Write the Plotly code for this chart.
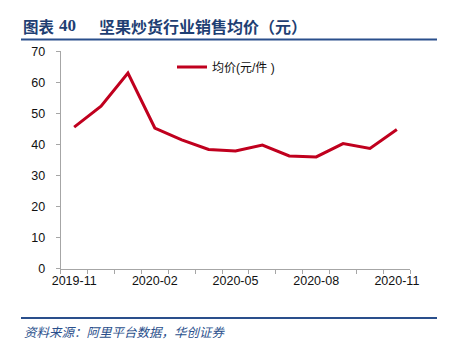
import plotly.graph_objects as go

months = ["2019-11", "2019-12", "2020-01", "2020-02", "2020-03", "2020-04", "2020-05",
          "2020-06", "2020-07", "2020-08", "2020-09", "2020-10", "2020-11"]
avg_price = [45.6, 52.3, 63.0, 45.3, 41.5, 38.4, 37.9, 39.8, 36.3, 36.0, 40.3, 38.7, 44.8]
tick_labels = ["2019-11", "2020-02", "2020-05", "2020-08", "2020-11"]
series_name = "均价(元/件 )"

W, H = 449, 354
x_idx = list(range(len(months)))
tick_pos = [months.index(t) for t in tick_labels]

fig = go.Figure()
fig.add_trace(go.Scatter(x=x_idx, y=avg_price, mode="lines", name=series_name,
                         line=dict(color="#C0001E", width=3)))

x0, x1 = 60.7 / W, 410.3 / W
y0, y1 = 1 - 268.7 / H, 1 - 51.3 / H

fig.update_layout(
    width=W, height=H,
    margin=dict(l=0, r=0, t=0, b=0, autoexpand=False),
    paper_bgcolor="white", plot_bgcolor="white",
    font=dict(family="Liberation Sans, Arial, Noto Sans CJK SC", size=12, color="#111111"),
    showlegend=True,
    legend=dict(x=172 / W, y=1 - 67 / H, xanchor="left", yanchor="middle",
                bgcolor="rgba(0,0,0,0)", font=dict(size=12, family="Liberation Sans, Noto Sans CJK SC"),
                itemwidth=30),
    xaxis=dict(domain=[x0, x1], range=[-0.5, len(months) - 0.5],
               tickmode="array", tickvals=tick_pos, ticktext=tick_labels,
               ticks="", showgrid=False, zeroline=False, automargin=False,
               showline=True, linecolor="#A6A6A6", linewidth=1,
               minor=dict(tickmode="linear", tick0=-0.5, dtick=1, ticks="outside",
                          ticklen=4, tickcolor="#A6A6A6", showgrid=False),
               tickfont=dict(size=12.5), fixedrange=True),
    yaxis=dict(domain=[y0, y1], range=[0, 70], dtick=10, tick0=0,
               ticks="outside", ticklen=4, tickcolor="#A6A6A6",
               showgrid=False, zeroline=False, automargin=False,
               showline=True, linecolor="#A6A6A6", linewidth=1,
               tickfont=dict(size=12.5), ticklabelstandoff=8, fixedrange=True),
)

title_color = "#1F3F73"
# title pieces
fig.add_annotation(xref="paper", yref="paper", x=21 / W, y=1 - 26 / H,
                   xanchor="left", yanchor="middle", showarrow=False,
                   text="<b>图表</b>",
                   font=dict(family="Noto Sans CJK SC", size=15.5, color=title_color))
fig.add_annotation(xref="paper", yref="paper", x=57 / W, y=1 - 26 / H,
                   xanchor="left", yanchor="middle", showarrow=False,
                   text="<b>40</b>",
                   font=dict(family="Liberation Serif", size=17, color=title_color))
fig.add_annotation(xref="paper", yref="paper", x=97 / W, y=1 - 26 / H,
                   xanchor="left", yanchor="middle", showarrow=False,
                   text="<b>坚果炒货行业销售均价（元）</b>",
                   font=dict(family="Noto Sans CJK SC", size=16, color=title_color))
fig.add_shape(type="line", xref="paper", yref="paper", x0=21 / W, x1=437 / W,
              y0=1 - 39.5 / H, y1=1 - 39.5 / H, line=dict(color="#2A4F8C", width=2))
# source
fig.add_shape(type="line", xref="paper", yref="paper", x0=21 / W, x1=437 / W,
              y0=1 - 318 / H, y1=1 - 318 / H, line=dict(color="#2A4F8C", width=2))
fig.add_annotation(xref="paper", yref="paper", x=22 / W, y=1 - 331 / H,
                   xanchor="left", yanchor="middle", showarrow=False,
                   text="<i>资料来源：阿里平台数据，华创证券</i>",
                   font=dict(family="Noto Sans CJK SC", size=12.5, color="#2A4F8C"))

fig.write_html("out.html")
